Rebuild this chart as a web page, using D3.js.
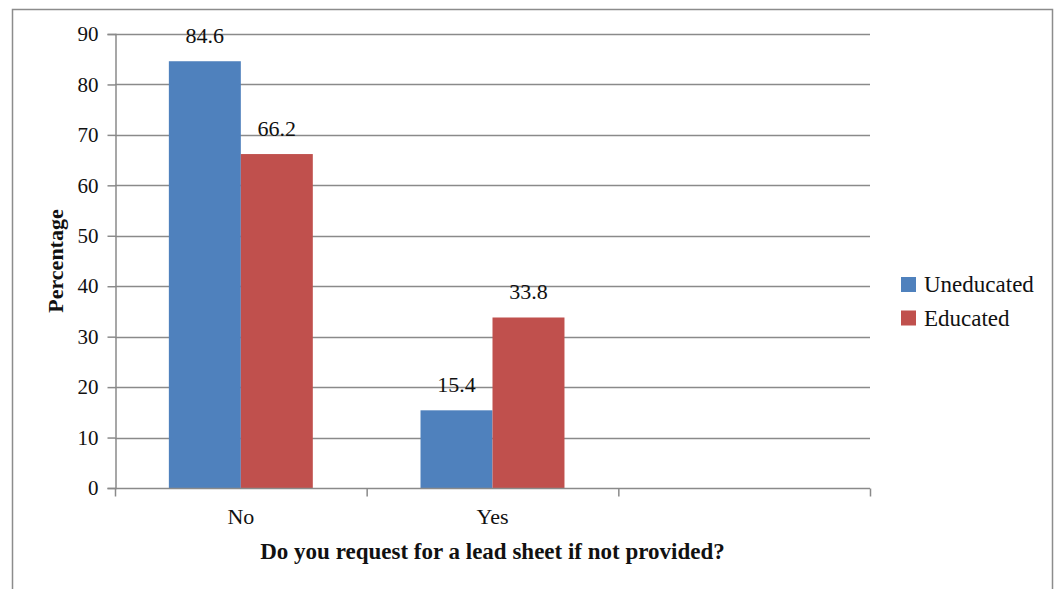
<!DOCTYPE html>
<html>
<head>
<meta charset="utf-8">
<script src="https://cdn.jsdelivr.net/npm/d3@7"></script>
<style>
  body { margin: 0; background: #fff; }
  svg { display: block; }
  text { font-family: "Liberation Serif", "Times New Roman", serif; fill: #111; }
</style>
</head>
<body>
<div id="chart"></div>
<script>
// Daten
const categories = ["No", "Yes", ""];
const seriesNames = ["Uneducated", "Educated"];
const uneducated = [84.6, 15.4];
const educated = [66.2, 33.8];
const yTicks = [0, 10, 20, 30, 40, 50, 60, 70, 80, 90];
const colors = ["#4F81BD", "#C0504D"];

const W = 1056, H = 589;
const plot = { left: 115, right: 870, top: 34, bottom: 488 };
const fontSize = "22px";

const svg = d3.select("#chart").append("svg")
    .attr("width", W)
    .attr("height", H);

// Rahmen
svg.append("path")
    .attr("d", `M12.5,${H} V9.5 H1052.5 V${H}`)
    .attr("fill", "none")
    .attr("stroke", "#8c8c8c")
    .attr("stroke-width", 1.5);

// Skalen
const x0 = d3.scaleBand().domain(categories).range([plot.left, plot.right]).padding(0);
const x1 = d3.scaleBand().domain(seriesNames)
    .range([x0.bandwidth() * 0.214, x0.bandwidth() * 0.786]);
const y = d3.scaleLinear().domain([0, 90]).range([plot.bottom, plot.top]);

// Gitterlinien
svg.append("g")
    .selectAll("line")
    .data(yTicks.filter(d => d > 0))
    .join("line")
    .attr("x1", plot.left)
    .attr("x2", plot.right)
    .attr("y1", d => Math.round(y(d)) + 0.5)
    .attr("y2", d => Math.round(y(d)) + 0.5)
    .attr("stroke", "#8a8a8a")
    .attr("stroke-width", 1.5);

// Y-Achse
const yAxis = svg.append("g")
    .attr("transform", `translate(${plot.left + 0.5},0)`)
    .call(d3.axisLeft(y).tickValues(yTicks).tickSize(8).tickPadding(9));
yAxis.attr("font-size", null).attr("font-family", null);
yAxis.select(".domain").attr("stroke", "#8a8a8a").attr("stroke-width", 1.5);
yAxis.selectAll(".tick line").attr("stroke", "#8a8a8a").attr("stroke-width", 1.5);
yAxis.selectAll(".tick text")
    .style("font-size", "21px")
    .attr("fill", "#111");

// Balken
const data = categories.slice(0, 2).map((c, i) => ({
    cat: c,
    values: [uneducated[i], educated[i]]
}));

const groups = svg.append("g")
    .selectAll("g")
    .data(data)
    .join("g")
    .attr("transform", d => `translate(${x0(d.cat)},0)`);

groups.selectAll("rect")
    .data(d => d.values.map((v, j) => ({ name: seriesNames[j], value: v, j })))
    .join("rect")
    .attr("x", d => x1(d.name))
    .attr("width", x1.bandwidth())
    .attr("y", d => y(d.value))
    .attr("height", d => y(0) - y(d.value))
    .attr("fill", d => colors[d.j]);

// Werte-Labels
groups.selectAll("text.value")
    .data(d => d.values.map((v, j) => ({ name: seriesNames[j], value: v })))
    .join("text")
    .attr("class", "value")
    .attr("x", d => x1(d.name) + x1.bandwidth() / 2)
    .attr("y", d => y(d.value) - 18)
    .attr("text-anchor", "middle")
    .style("font-size", fontSize)
    .text(d => d.value.toFixed(1));

// X-Achse
const xAxisG = svg.append("g").attr("transform", `translate(0,${plot.bottom + 0.5})`);
xAxisG.append("line")
    .attr("x1", plot.left)
    .attr("x2", plot.right)
    .attr("stroke", "#8a8a8a")
    .attr("stroke-width", 1.5);
const xEdges = categories.map(c => x0(c)).concat([plot.right]);
xAxisG.selectAll("line.tick")
    .data(xEdges)
    .join("line")
    .attr("class", "tick")
    .attr("x1", d => d + 0.5)
    .attr("x2", d => d + 0.5)
    .attr("y1", 0)
    .attr("y2", 8)
    .attr("stroke", "#8a8a8a")
    .attr("stroke-width", 1.5);
xAxisG.selectAll("text")
    .data(categories)
    .join("text")
    .attr("x", d => x0(d) + x0.bandwidth() / 2)
    .attr("y", 35)
    .attr("text-anchor", "middle")
    .style("font-size", fontSize)
    .text(d => d);

// Achsentitel
svg.append("text")
    .attr("x", (plot.left + plot.right) / 2)
    .attr("y", 559)
    .attr("text-anchor", "middle")
    .style("font-size", "23px")
    .style("font-weight", "bold")
    .text("Do you request for a lead sheet if not provided?");

svg.append("text")
    .attr("transform", `translate(63,${(plot.top + plot.bottom) / 2}) rotate(-90)`)
    .attr("text-anchor", "middle")
    .style("font-size", fontSize)
    .style("font-weight", "bold")
    .text("Percentage");

// Legende
const legend = svg.append("g").attr("transform", "translate(901,277)");
const items = legend.selectAll("g")
    .data(seriesNames)
    .join("g")
    .attr("transform", (d, i) => `translate(0,${i * 33.5})`);
items.append("rect")
    .attr("x", 0)
    .attr("y", 0)
    .attr("width", 15)
    .attr("height", 15)
    .attr("fill", (d, i) => colors[i]);
items.append("text")
    .attr("x", 23)
    .attr("y", 15)
    .style("font-size", "23px")
    .text(d => d);
</script>
</body>
</html>
